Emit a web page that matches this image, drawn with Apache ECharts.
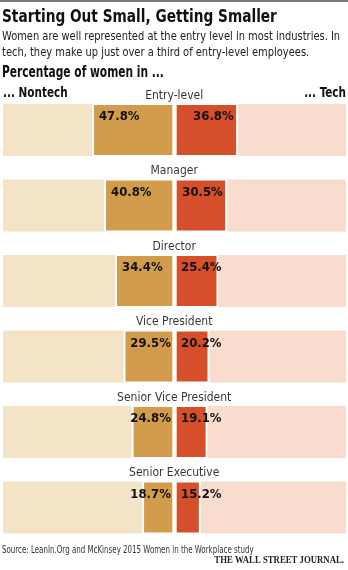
<!DOCTYPE html>
<html>
<head>
<meta charset="utf-8">
<script src="https://cdn.jsdelivr.net/npm/echarts@6/dist/echarts.min.js"></script>
<style>
  html, body { margin: 0; padding: 0; background: #fff; }
  #chart { width: 348px; height: 570px; }
</style>
</head>
<body>
<div id="chart"></div>
<script>
// Share of women at each career level, non-tech vs tech industries (%)
const levels = ['Entry-level', 'Manager', 'Director', 'Vice President', 'Senior Vice President', 'Senior Executive'];
const nontech = [47.8, 40.8, 34.4, 29.5, 24.8, 18.7];
const tech = [36.8, 30.5, 25.4, 20.2, 19.1, 15.2];

const FONT = "'Liberation Sans Narrow', 'DejaVu Sans Condensed', 'Roboto Condensed', Roboto, sans-serif";
const SERIF = "'Liberation Serif', 'DejaVu Serif', serif";

// Two mirrored grids meeting in the middle
const LEFT_X = 2, LEFT_W = 172.3;
const RIGHT_X = 174.7, RIGHT_W = 172.3;
const TOP = 92.25, ROW = 75.5;
const pxL = LEFT_W / 100, pxR = RIGHT_W / 100;
const LABEL_W = 40;

const valueLabel = {
  show: true,
  color: '#111',
  fontFamily: FONT,
  fontWeight: 'bold',
  fontSize: 13,
  lineHeight: 14,
  align: 'left',
  verticalAlign: 'top',
  formatter: p => p.value.toFixed(1) + '%'
};

// Non-tech labels sit inside the bar's outer end, pulled toward the centre when the bar is short
const nontechData = nontech.map(v => {
  const w = v * pxL;
  return { value: v, label: { position: [Math.min(7, w - 44), 7] } };
});
// Tech labels hug the bar's outer end, but never start left of the centre padding
const techData = tech.map(v => {
  const w = v * pxR;
  return { value: v, label: { position: [Math.max(6.3, w - 5 - LABEL_W), 7] } };
});

// Level names, centred over the middle of each row
const levelNames = levels.map(name => [0, name]);

function txt(x, y, text, font, scaleX, fill, align) {
  return {
    type: 'text', x: x, y: y, scaleX: scaleX, silent: true,
    style: { text: text, font: font, fill: fill || '#111', align: align || 'left', verticalAlign: 'middle' }
  };
}

const chart = echarts.init(document.getElementById('chart'), null, { renderer: 'canvas' });

chart.setOption({
  animation: false,
  backgroundColor: '#fff',
  grid: [
    { left: LEFT_X, top: TOP, width: LEFT_W, height: ROW * levels.length },
    { left: RIGHT_X, top: TOP, width: RIGHT_W, height: ROW * levels.length }
  ],
  xAxis: [
    { gridIndex: 0, type: 'value', min: 0, max: 100, inverse: true, show: false },
    { gridIndex: 1, type: 'value', min: 0, max: 100, show: false }
  ],
  yAxis: [
    { gridIndex: 0, type: 'category', data: levels, inverse: true, show: false },
    { gridIndex: 1, type: 'category', data: levels, inverse: true, show: false }
  ],
  series: [
    {
      name: 'Nontech', type: 'bar', xAxisIndex: 0, yAxisIndex: 0,
      barWidth: 54, data: nontechData,
      itemStyle: { color: '#D39C4C', borderColor: '#fff', borderWidth: 2 },
      showBackground: true,
      backgroundStyle: { color: '#F3E4C7', borderColor: '#fff', borderWidth: 2 },
      label: valueLabel
    },
    {
      name: 'Tech', type: 'bar', xAxisIndex: 1, yAxisIndex: 1,
      barWidth: 54, data: techData,
      itemStyle: { color: '#D5502A', borderColor: '#fff', borderWidth: 2 },
      showBackground: true,
      backgroundStyle: { color: '#F8DDCE', borderColor: '#fff', borderWidth: 2 },
      label: valueLabel
    },
    {
      name: 'Level', type: 'scatter', xAxisIndex: 1, yAxisIndex: 1,
      data: levelNames, symbolSize: 1, silent: true,
      itemStyle: { color: 'rgba(0,0,0,0)' },
      label: {
        show: true,
        position: [0, -34],
        align: 'center',
        verticalAlign: 'middle',
        color: '#000',
        fontFamily: FONT,
        fontSize: 12,
        formatter: p => p.value[1]
      },
      z: 5
    }
  ],
  graphic: [
    { type: 'rect', left: 0, top: 0, shape: { width: 348, height: 2 }, style: { fill: '#7d7d7d' } },
    txt(2, 17, 'Starting Out Small, Getting Smaller', 'bold 17.5px ' + FONT, 0.87),
    txt(2, 37, 'Women are well represented at the entry level in most industries. In', '12.3px ' + FONT, 0.895, '#222'),
    txt(2, 53, 'tech, they make up just over a third of entry-level employees.', '12.3px ' + FONT, 0.895, '#222'),
    txt(2, 73.5, 'Percentage of women in ...', 'bold 15px ' + FONT, 0.79),
    txt(3, 93, '... Nontech', 'bold 14px ' + FONT, 0.83),
    txt(346, 93, '... Tech', 'bold 14px ' + FONT, 0.83, '#111', 'right'),
    txt(2, 550, 'Source: LeanIn.Org and McKinsey 2015 Women in the Workplace study', '10.5px ' + FONT, 0.75, '#333'),
    txt(344, 561, 'THE WALL STREET JOURNAL.', 'bold 9.5px ' + SERIF, 0.92, '#222', 'right')
  ]
});
</script>
</body>
</html>
